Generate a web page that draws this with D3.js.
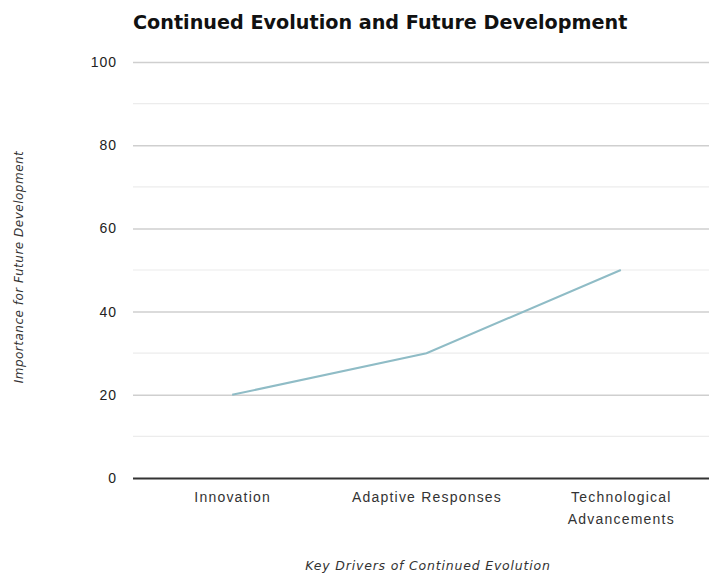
<!DOCTYPE html>
<html>
<head>
<meta charset="utf-8">
<script src="https://cdn.jsdelivr.net/npm/d3@7"></script>
<style>
  body { margin: 0; background: #fff; }
  svg { display: block; font-family: "DejaVu Sans", sans-serif; }
</style>
</head>
<body>
<svg></svg>
<script>
var width = 709;
var height = 577;

var drivers = ["Innovation", "Adaptive Responses", "Technological Advancements"];
var importance = [20, 30, 50];
var yTicks = [0, 20, 40, 60, 80, 100];
var minorTicks = [10, 30, 50, 70, 90];

var margin = { top: 62, right: -9, bottom: 99, left: 135 };

var svg = d3.select("svg")
  .attr("width", width)
  .attr("height", height);

var x = d3.scalePoint()
  .domain(drivers)
  .range([margin.left, width - margin.right])
  .padding(0.5);

var y = d3.scaleLinear()
  .domain([0, 100])
  .range([height - margin.bottom, margin.top]);

// minor grid
svg.append("g")
  .selectAll("line")
  .data(minorTicks)
  .join("line")
    .attr("x1", 133)
    .attr("x2", width)
    .attr("y1", d => y(d))
    .attr("y2", d => y(d))
    .attr("stroke", "#ececec")
    .attr("stroke-width", 1.2);

// y axis with major grid
var yAxis = svg.append("g")
  .attr("transform", "translate(133,0)")
  .call(d3.axisLeft(y).tickValues(yTicks).tickSize(-(width - 133)).tickPadding(16));

yAxis.select(".domain").remove();
yAxis.selectAll(".tick line")
  .attr("stroke", d => d === 0 ? "#333" : "#cfcfcf")
  .attr("stroke-width", d => d === 0 ? 2.2 : 1.5);
yAxis.selectAll(".tick text")
  .attr("fill", "#222")
  .style("font-size", "14px")
  .style("letter-spacing", "1px");

// x axis labels
var xAxis = svg.append("g")
  .attr("transform", "translate(0," + y(0) + ")")
  .call(d3.axisBottom(x).tickSize(0).tickPadding(14));

xAxis.select(".domain").remove();
xAxis.selectAll(".tick text")
  .attr("fill", "#333")
  .style("font-size", "14px")
  .style("letter-spacing", "1.2px")
  .each(function(d) {
    var t = d3.select(this);
    var words = d.split(" ");
    if (d === "Technological Advancements") {
      t.text(null);
      words.forEach(function(w, i) {
        t.append("tspan")
          .attr("x", 0)
          .attr("dy", i === 0 ? "0.71em" : "1.6em")
          .text(w);
      });
    }
  });

// the line
var line = d3.line()
  .x((d, i) => x(drivers[i]))
  .y(d => y(d));

svg.append("path")
  .datum(importance)
  .attr("fill", "none")
  .attr("stroke", "#8fbcc6")
  .attr("stroke-width", 2)
  .attr("d", line);

// title
svg.append("text")
  .attr("x", 133)
  .attr("y", 29)
  .style("font-size", "19.2px")
  .style("font-weight", "bold")
  .attr("fill", "#111")
  .text("Continued Evolution and Future Development");

// axis titles
svg.append("text")
  .attr("transform", "translate(23,267) rotate(-90)")
  .attr("text-anchor", "middle")
  .style("font-size", "12px")
  .style("font-style", "italic")
  .style("letter-spacing", "0.5px")
  .attr("fill", "#333")
  .text("Importance for Future Development");

svg.append("text")
  .attr("x", 428)
  .attr("y", 570)
  .attr("text-anchor", "middle")
  .style("font-size", "12.5px")
  .style("font-style", "italic")
  .style("letter-spacing", "0.8px")
  .attr("fill", "#333")
  .text("Key Drivers of Continued Evolution");
</script>
</body>
</html>
